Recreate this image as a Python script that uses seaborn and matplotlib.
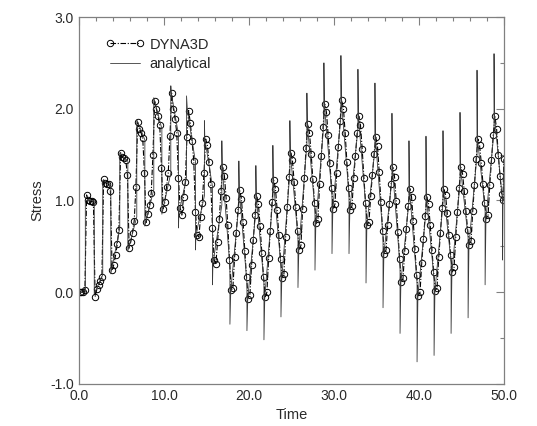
"""
Stress vs Time: DYNA3D result against the analytical solution.
"""
import matplotlib
matplotlib.use('Agg')
import matplotlib.pyplot as plt
import pandas as pd
import seaborn as sns
from matplotlib.ticker import MultipleLocator, FormatStrFormatter

# DYNA3D samples, one line per loading cycle
dyna_time = [
    0.1, 0.3, 0.5, 0.7,
    0.9, 1.1, 1.3, 1.5, 1.7, 1.9, 2.1, 2.3, 2.5, 2.7,
    2.9, 3.1, 3.3, 3.5, 3.7, 3.9, 4.1, 4.3, 4.5, 4.7,
    4.9, 5.1, 5.3, 5.5, 5.7, 5.9, 6.1, 6.3, 6.5, 6.7,
    6.9, 7.1, 7.3, 7.5, 7.7, 7.9, 8.1, 8.3, 8.5, 8.7,
    8.9, 9.1, 9.3, 9.5, 9.7, 9.9, 10.1, 10.3, 10.5, 10.7,
    10.9, 11.1, 11.3, 11.5, 11.7, 11.9, 12.1, 12.3, 12.5, 12.7,
    12.9, 13.1, 13.3, 13.5, 13.7, 13.9, 14.1, 14.3, 14.5, 14.7,
    14.9, 15.1, 15.3, 15.5, 15.7, 15.9, 16.1, 16.3, 16.5, 16.7,
    16.9, 17.1, 17.3, 17.5, 17.7, 17.9, 18.1, 18.3, 18.5, 18.7,
    18.9, 19.1, 19.3, 19.5, 19.7, 19.9, 20.1, 20.3, 20.5, 20.7,
    20.9, 21.1, 21.3, 21.5, 21.7, 21.9, 22.1, 22.3, 22.5, 22.7,
    22.9, 23.1, 23.3, 23.5, 23.7, 23.9, 24.1, 24.3, 24.5, 24.7,
    24.9, 25.1, 25.3, 25.5, 25.7, 25.9, 26.1, 26.3, 26.5, 26.7,
    26.9, 27.1, 27.3, 27.5, 27.7, 27.9, 28.1, 28.3, 28.5, 28.7,
    28.9, 29.1, 29.3, 29.5, 29.7, 29.9, 30.1, 30.3, 30.5, 30.7,
    30.9, 31.1, 31.3, 31.5, 31.7, 31.9, 32.1, 32.3, 32.5, 32.7,
    32.9, 33.1, 33.3, 33.5, 33.7, 33.9, 34.1, 34.3, 34.5, 34.7,
    34.9, 35.1, 35.3, 35.5, 35.7, 35.9, 36.1, 36.3, 36.5, 36.7,
    36.9, 37.1, 37.3, 37.5, 37.7, 37.9, 38.1, 38.3, 38.5, 38.7,
    38.9, 39.1, 39.3, 39.5, 39.7, 39.9, 40.1, 40.3, 40.5, 40.7,
    40.9, 41.1, 41.3, 41.5, 41.7, 41.9, 42.1, 42.3, 42.5, 42.7,
    42.9, 43.1, 43.3, 43.5, 43.7, 43.9, 44.1, 44.3, 44.5, 44.7,
    44.9, 45.1, 45.3, 45.5, 45.7, 45.9, 46.1, 46.3, 46.5, 46.7,
    46.9, 47.1, 47.3, 47.5, 47.7, 47.9, 48.1, 48.3, 48.5, 48.7,
    48.9, 49.1, 49.3, 49.5, 49.7, 49.85, 49.95,
]
dyna_stress = [
    0.0, 0.0, 0.0, 0.02,
    1.06, 1.0, 0.99, 0.99, 0.98, -0.05, 0.03, 0.08, 0.12, 0.17,
    1.23, 1.19, 1.18, 1.18, 1.1, 0.24, 0.3, 0.4, 0.52, 0.68,
    1.52, 1.47, 1.46, 1.44, 1.28, 0.48, 0.55, 0.65, 0.78, 1.15,
    1.85, 1.78, 1.74, 1.68, 1.3, 0.76, 0.85, 0.95, 1.08, 1.5,
    2.08, 2.0, 1.92, 1.82, 1.35, 0.91, 0.98, 1.15, 1.3, 1.7,
    2.17, 2.0, 1.89, 1.74, 1.24, 0.92, 0.84, 1.04, 1.2, 1.69,
    1.98, 1.84, 1.65, 1.43, 0.87, 0.62, 0.6, 0.82, 0.97, 1.3,
    1.67, 1.6, 1.42, 1.18, 0.7, 0.35, 0.31, 0.55, 0.8, 1.1,
    1.36, 1.27, 1.03, 0.73, 0.35, 0.02, 0.05, 0.38, 0.65, 0.9,
    1.11, 1.02, 0.76, 0.45, 0.17, -0.07, -0.03, 0.3, 0.57, 0.84,
    1.05, 0.96, 0.72, 0.43, 0.17, -0.05, 0.0, 0.37, 0.67, 0.98,
    1.22, 1.13, 0.9, 0.62, 0.36, 0.15, 0.2, 0.6, 0.93, 1.26,
    1.52, 1.44, 1.2, 0.93, 0.67, 0.46, 0.51, 0.91, 1.24, 1.57,
    1.83, 1.74, 1.51, 1.23, 0.97, 0.75, 0.8, 1.18, 1.49, 1.8,
    2.05, 1.96, 1.71, 1.41, 1.14, 0.91, 0.96, 1.3, 1.58, 1.87,
    2.09, 2.0, 1.73, 1.42, 1.14, 0.9, 0.94, 1.24, 1.48, 1.73,
    1.92, 1.82, 1.56, 1.25, 0.97, 0.73, 0.77, 1.05, 1.28, 1.51,
    1.69, 1.59, 1.31, 0.98, 0.67, 0.42, 0.46, 0.73, 0.96, 1.18,
    1.36, 1.26, 0.99, 0.66, 0.36, 0.11, 0.15, 0.45, 0.69, 0.94,
    1.13, 1.04, 0.78, 0.47, 0.19, -0.04, 0.0, 0.32, 0.58, 0.83,
    1.04, 0.96, 0.73, 0.46, 0.22, 0.01, 0.05, 0.38, 0.65, 0.92,
    1.13, 1.06, 0.86, 0.62, 0.4, 0.22, 0.27, 0.6, 0.87, 1.14,
    1.36, 1.29, 1.1, 0.88, 0.68, 0.51, 0.56, 0.89, 1.17, 1.45,
    1.67, 1.6, 1.41, 1.18, 0.97, 0.8, 0.84, 1.17, 1.44, 1.71,
    1.92, 1.78, 1.5, 1.27, 1.07, 1.0, 1.45,
]

# analytical solution, corner points of the saw-tooth with its overshoot spikes
analytical_time = [
    0.0, 0.75, 0.75, 1.8, 1.8, 2.8,
    2.8, 3.75, 3.75, 4.8,
    4.8, 5.75, 5.75, 6.8,
    6.8, 7.75, 7.75, 8.8,
    8.8, 9.75, 9.75, 10.8,
    10.8, 10.85, 11.7, 11.7, 11.75, 12.65,
    12.65, 12.75, 13.7, 13.7, 13.75, 14.75,
    14.75, 14.8, 15.7, 15.7, 15.75, 16.8,
    16.8, 16.85, 17.75, 17.75, 17.85, 18.8,
    18.8, 18.85, 19.75, 19.75, 19.85, 20.8,
    20.8, 20.85, 21.75, 21.75, 21.85, 22.8,
    22.8, 22.85, 23.75, 23.75, 23.85, 24.8,
    24.8, 24.85, 25.75, 25.75, 25.85, 26.8,
    26.8, 26.85, 27.75, 27.75, 27.85, 28.8,
    28.8, 28.85, 29.75, 29.75, 29.85, 30.8,
    30.8, 30.85, 31.75, 31.75, 31.85, 32.8,
    32.8, 32.85, 33.75, 33.75, 33.85, 34.8,
    34.8, 34.85, 35.75, 35.75, 35.85, 36.8,
    36.8, 36.85, 37.75, 37.75, 37.85, 38.8,
    38.8, 38.85, 39.75, 39.75, 39.85, 40.8,
    40.8, 40.85, 41.75, 41.75, 41.85, 42.8,
    42.8, 42.85, 43.75, 43.75, 43.85, 44.8,
    44.8, 44.85, 45.75, 45.75, 45.85, 46.8,
    46.8, 46.85, 47.75, 47.75, 47.85, 48.8,
    48.8, 48.85, 49.8, 49.8, 49.85, 50.0,
]
analytical_stress = [
    0.0, 0.0, 1.0, 1.0, -0.02, 0.19,
    1.22, 1.17, 0.2, 0.7,
    1.52, 1.43, 0.45, 0.82,
    1.88, 1.66, 0.72, 1.12,
    2.12, 1.78, 0.85, 1.3,
    2.25, 2.17, 1.72, 0.7, 0.86, 1.25,
    2.14, 1.98, 1.42, 0.46, 0.62, 1.05,
    1.87, 1.67, 1.15, 0.08, 0.31, 0.95,
    1.65, 1.36, 0.28, -0.35, 0.02, 0.95,
    1.43, 1.11, 0.1, -0.42, -0.07, 0.89,
    1.38, 1.05, 0.1, -0.52, -0.05, 1.03,
    1.6, 1.22, 0.28, -0.27, 0.15, 1.31,
    1.87, 1.52, 0.6, 0.05, 0.46, 1.62,
    2.17, 1.83, 0.9, 0.24, 0.75, 1.85,
    2.5, 2.05, 1.06, 0.42, 0.91, 1.92,
    2.58, 2.09, 1.06, 0.42, 0.9, 1.78,
    2.43, 1.92, 0.9, 0.1, 0.73, 1.56,
    2.28, 1.69, 0.6, -0.17, 0.42, 1.23,
    1.95, 1.36, 0.28, -0.45, 0.11, 0.99,
    1.65, 1.13, 0.1, -0.76, -0.04, 0.88,
    1.7, 1.04, 0.14, -0.69, 0.01, 0.97,
    1.76, 1.13, 0.33, -0.45, 0.22, 1.19,
    1.96, 1.36, 0.6, -0.28, 0.51, 1.5,
    2.42, 1.67, 0.9, 0.08, 0.8, 1.76,
    2.6, 1.92, 1.0, 0.35, 1.0, 1.45,
]

dyna_df = pd.DataFrame({'Time': dyna_time, 'Stress': dyna_stress})
analytical_df = pd.DataFrame({'Time': analytical_time, 'Stress': analytical_stress})

sns.set_theme(style='white')
plt.rcParams['font.family'] = ['Liberation Sans', 'DejaVu Sans']

fig = plt.figure(figsize=(5.37, 4.26), dpi=100)
ax = fig.add_axes([0.147, 0.099, 0.792, 0.861])

sns.lineplot(data=dyna_df, x='Time', y='Stress', ax=ax, sort=False, estimator=None,
             color='black', linewidth=0.8, linestyle=(0, (5, 1.5, 1, 1.5)),
             marker='o', markersize=4.6, markerfacecolor='none', markeredgecolor='black',
             markeredgewidth=0.7, label='DYNA3D')
sns.lineplot(data=analytical_df, x='Time', y='Stress', ax=ax, sort=False, estimator=None,
             color='#3a3a3a', linewidth=0.6, label='analytical')

ax.set_xlim(0, 50)
ax.set_ylim(-1, 3)
ax.xaxis.set_major_locator(MultipleLocator(10))
ax.xaxis.set_minor_locator(MultipleLocator(2))
ax.yaxis.set_major_locator(MultipleLocator(1))
ax.yaxis.set_minor_locator(MultipleLocator(0.5))
ax.xaxis.set_major_formatter(FormatStrFormatter('%.1f'))
ax.yaxis.set_major_formatter(FormatStrFormatter('%.1f'))
ax.tick_params(which='both', direction='in', top=True, right=True, colors='#808080',
               labelcolor='#2a2a2a', labelsize=10)
ax.tick_params(which='major', length=6, width=0.8)
ax.tick_params(which='minor', length=3, width=0.8)
for sp in ax.spines.values():
    sp.set_color('#808080')
    sp.set_linewidth(0.9)

ax.set_xlabel('Time', fontsize=10.5, color='#2a2a2a')
ax.set_ylabel('Stress', fontsize=10.5, color='#2a2a2a')

ax.legend(loc='upper left', frameon=False, numpoints=2, handlelength=2.6, fontsize=10.5,
          bbox_to_anchor=(0.05, 0.96), borderaxespad=0, labelspacing=0.35, handletextpad=0.4)

fig.savefig('out.png', dpi=100)
